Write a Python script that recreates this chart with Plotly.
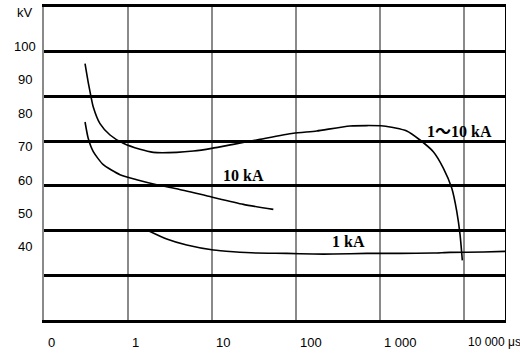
import numpy as np
import plotly.graph_objects as go

# ---- data ----
t_upper = [0.308, 0.336, 0.360, 0.386, 0.464, 0.611, 0.879, 1.39, 2.0, 3.8, 6.0, 9.9,
           17.9, 37.3, 92.9, 176, 440, 1095, 2080, 2990, 4310, 5670, 7140, 8190, 8960, 9550]
v_upper = [94.9, 89.3, 85.4, 81.9, 76.9, 73.5, 71.0, 69.2, 68.3, 68.3, 68.7, 69.5,
           70.7, 72.2, 74.0, 74.7, 76.2, 76.2, 74.7, 72.0, 68.5, 63.6, 57.6, 50.7, 43.8, 35.9]

t_10ka = [0.308, 0.336, 0.386, 0.508, 0.803, 1.27, 2.2, 3.8, 9.9, 23.6, 53.7]
v_10ka = [77.4, 72.5, 68.5, 64.6, 61.6, 60.1, 58.6, 57.4, 54.9, 52.7, 51.2]

t_1ka = [1.75, 2.89, 5.0, 10.4, 17.9, 34.0, 77.5, 161, 278, 695, 1730, 4310, 6810, 17000, 30760]
v_1ka = [44.8, 42.3, 40.5, 39.0, 38.5, 38.1, 38.0, 37.8, 37.8, 38.0, 38.0, 38.1, 38.3, 38.4, 38.6]

curve_labels = ["1～10 kA", "10 kA", "1 kA"]
curve_label_t = [8950, 24.0, 422]
curve_label_v = [74.5, 61.4, 41.6]

y_tick_vals = [110.1, 100, 90, 80, 70, 60, 50, 40]
y_tick_text = ["kV", "100", "90", "80", "70", "60", "50", "40"]

x_tick_vals = [0.1, 1, 10, 100, 1000, 10000]
x_tick_text = ["0", "1", "10", "100", "1 000", "10 000 μs"]

grid_tick_vals = [1, 10, 100, 1000, 10000]

y_range = [18.03, 111.88]
x_range = [0.1, 30760]
n_bands = 7

# ---- figure ----
fig = go.Figure()
line_style = dict(color="black", width=1.6, shape="spline", smoothing=0.6)
for t, v in [(t_upper, v_upper), (t_10ka, v_10ka), (t_1ka, v_1ka)]:
    fig.add_trace(go.Scatter(x=t, y=v, mode="lines", line=line_style,
                             hoverinfo="skip", showlegend=False))
# empty trace to carry the band axis (horizontal grid)
fig.add_trace(go.Scatter(x=[], y=[], yaxis="y2", showlegend=False, hoverinfo="skip"))

annotations = []
for txt, t, v in zip(curve_labels, curve_label_t, curve_label_v):
    annotations.append(dict(text=txt, x=np.log10(t), y=v, xref="x", yref="y",
                            showarrow=False, xanchor="center", yanchor="middle",
                            font=dict(family="Liberation Serif, Noto Sans CJK SC, serif",
                                      size=16, color="black", weight="bold")))
for txt, v in zip(y_tick_text, y_tick_vals):
    annotations.append(dict(text=txt, x=0, y=v, xref="paper", yref="y",
                            xshift=-19, showarrow=False, xanchor="center", yanchor="middle",
                            font=dict(family="Liberation Sans, Arial, sans-serif",
                                      size=13, color="black")))
for i, (txt, t) in enumerate(zip(x_tick_text, x_tick_vals)):
    last = i == len(x_tick_text) - 1
    annotations.append(dict(text=txt, x=np.log10(t), y=0, xref="x", yref="paper",
                            xshift=2, yshift=-22, showarrow=False, xanchor="left",
                            yanchor="middle",
                            font=dict(family="Liberation Sans, Arial, sans-serif",
                                      size=12 if last else 13, color="black")))

fig.update_layout(
    width=520, height=360,
    margin=dict(l=44, r=15, t=4, b=40),
    paper_bgcolor="white", plot_bgcolor="white",
    xaxis=dict(type="log", range=[np.log10(x_range[0]), np.log10(x_range[1])],
               tickvals=grid_tick_vals, showticklabels=False, ticks="",
               showgrid=True, gridcolor="#8a8a8a", gridwidth=2,
               showline=True, linecolor="black", linewidth=3, mirror=True,
               zeroline=False),
    yaxis=dict(range=y_range, showgrid=False, showticklabels=False, ticks="",
               showline=True, linecolor="#8a8a8a", linewidth=2, zeroline=False),
    yaxis2=dict(overlaying="y", side="right", range=[0, n_bands], dtick=1,
                showgrid=True, gridcolor="black", gridwidth=2.5,
                showticklabels=False, ticks="", zeroline=False,
                showline=True, linecolor="black", linewidth=1),
    annotations=annotations,
)

fig.write_html("out.html",
               config={"displayModeBar": False},
               post_script="document.body.style.margin='0';document.body.style.padding='0';")
